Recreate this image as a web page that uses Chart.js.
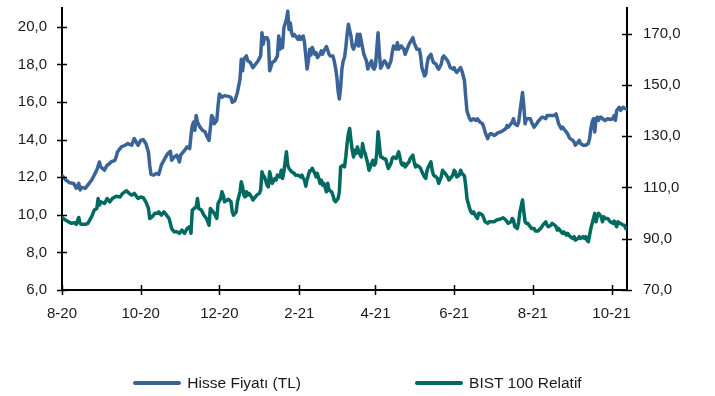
<!DOCTYPE html>
<html lang="tr">
<head>
<meta charset="utf-8">
<title>Hisse Fiyatı ve BIST 100 Relatif</title>
<script src="https://cdn.jsdelivr.net/npm/chart.js@4/dist/chart.umd.min.js"></script>
<style>
  html, body { margin: 0; padding: 0; background: #ffffff; }
  #wrap { position: relative; width: 715px; height: 396px; }
  #chart { position: absolute; left: 0; top: 0; }
  #legend {
    position: absolute; left: 0; top: 374px; width: 715px; height: 18px;
    display: flex; justify-content: center; align-items: center; gap: 114px;
    font-family: "Liberation Sans", Arial, sans-serif; font-size: 15.5px; color: #1a1a1a;
  }
  .item { display: flex; align-items: center; white-space: nowrap; }
  .swatch { width: 48px; height: 4px; margin-right: 6px; border-radius: 2px; }
</style>
</head>
<body>
<div id="wrap">
  <canvas id="chart" width="715" height="396"></canvas>
  <div id="legend"></div>
</div>
<script>
// Days are counted from 1 August 2020.
const monthTickDays   = [0, 61, 122, 184, 243, 304, 365, 426];
const monthTickLabels = ['8-20', '10-20', '12-20', '2-21', '4-21', '6-21', '8-21', '10-21'];
const lastDay = 438;

const leftTicks  = [6, 8, 10, 12, 14, 16, 18, 20];
const rightTicks = [70, 90, 110, 130, 150, 170];

// Hisse Fiyatı (TL), left axis
const hisseDays = [0,3,6,9,11,13,14,15,18,20,23,25,27,29,30,33,35,37,38,41,42,43,46,49,51,54,56,59,61,63,65,67,68,69,71,73,75,77,80,82,84,85,87,89,91,92,95,97,99,100,101,102,103,104,105,107,109,111,112,114,116,117,118,120,121,122,124,126,129,131,132,134,136,138,139,140,141,143,144,146,148,150,152,154,155,156,157,159,160,161,163,165,167,168,169,170,171,172,174,175,176,177,178,179,180,181,183,184,185,187,188,189,190,191,192,193,194,196,197,198,200,201,202,203,205,207,208,210,211,212,213,214,215,216,217,218,219,220,221,222,224,225,226,228,229,230,231,232,233,234,236,237,238,240,241,242,243,245,246,247,248,249,250,251,252,253,255,256,257,259,260,261,263,264,265,266,268,269,272,273,274,275,277,278,279,281,282,283,284,286,287,288,290,291,292,294,295,296,297,299,300,301,303,304,305,306,308,309,310,312,313,314,316,317,319,321,322,323,324,326,327,328,330,331,332,333,335,336,337,338,340,341,342,344,345,346,348,349,350,351,353,354,355,357,358,359,360,362,363,364,366,367,368,369,371,372,373,375,376,379,382,383,384,385,387,388,389,391,392,393,394,396,397,398,400,401,402,404,406,408,409,410,411,412,413,414,415,416,417,418,419,421,423,425,427,428,429,430,431,432,433,435,436,437];
const hisseValues = [12.10,11.85,11.70,11.67,11.41,11.67,11.32,11.46,11.41,11.58,11.85,12.11,12.38,12.81,12.55,12.38,12.64,12.73,12.81,12.90,13.08,13.34,13.61,13.70,13.79,13.70,14.05,13.70,13.96,14.00,13.79,13.34,12.64,12.15,12.11,12.20,12.15,12.64,13.03,13.26,13.38,12.90,13.08,13.17,12.81,13.17,13.43,13.61,13.52,14.22,14.75,14.93,14.49,15.28,14.93,14.66,14.49,14.40,14.22,13.96,15.28,15.19,14.84,15.02,15.81,16.43,16.25,16.34,16.30,16.25,15.98,16.07,16.51,17.22,18.28,17.66,18.28,18.45,18.19,18.10,17.83,18.01,18.19,18.45,19.68,19.07,19.42,19.42,19.24,17.66,18.10,18.19,18.45,19.51,18.81,19.33,18.89,19.95,20.39,20.83,19.86,20.21,19.68,19.51,19.60,19.51,19.33,19.51,19.33,19.51,19.15,18.45,17.75,18.20,18.80,18.50,18.90,18.54,18.63,18.36,18.54,18.72,18.54,18.72,18.95,18.54,18.45,18.45,18.19,17.83,17.39,16.60,16.16,16.78,17.75,18.19,18.36,18.89,19.60,20.13,19.51,18.98,18.81,19.15,19.60,18.98,19.60,19.24,18.89,18.54,18.19,17.75,17.92,18.19,17.83,17.75,17.92,19.68,18.60,17.80,17.92,18.10,18.19,18.10,17.95,17.83,18.19,18.63,18.98,18.81,19.15,18.81,18.98,18.89,18.81,18.54,18.89,19.07,19.42,19.15,18.98,18.81,18.81,18.45,17.83,17.39,17.48,18.01,18.36,18.54,18.28,18.10,18.01,17.83,17.75,18.01,18.36,18.45,18.36,18.19,18.01,17.83,17.75,17.83,17.66,17.57,17.75,17.83,17.66,17.13,16.25,15.50,15.11,15.02,15.11,15.02,15.11,15.02,14.93,14.84,14.66,14.40,14.05,14.22,14.31,14.31,14.22,14.26,14.31,14.37,14.40,14.44,14.49,14.58,14.75,14.66,14.84,14.93,15.11,14.84,14.75,14.93,15.46,16.51,15.81,14.84,15.11,15.11,15.11,14.93,14.66,14.75,14.84,14.96,15.11,15.19,15.19,15.11,15.28,15.28,15.28,15.37,15.11,14.84,14.58,14.66,14.58,14.40,14.31,14.14,14.05,13.96,13.87,13.70,13.87,13.96,13.79,13.70,13.70,13.79,14.05,14.58,14.93,15.11,14.40,15.11,15.19,15.02,15.19,15.19,15.11,15.02,15.11,15.07,15.11,15.28,15.02,15.55,15.64,15.72,15.55,15.72,15.67,15.64];

// BIST 100 Relatif, right axis
const bistDays = [0,2,5,7,10,11,13,14,15,18,20,23,25,27,28,29,30,33,35,37,39,42,45,47,50,52,54,56,59,61,63,65,67,68,70,72,74,75,77,79,81,83,85,87,89,91,93,95,97,99,100,101,104,105,106,108,110,112,114,115,116,118,120,121,123,124,125,126,129,131,132,133,135,136,138,139,140,141,142,143,144,145,147,148,149,151,153,154,155,156,157,159,160,161,163,165,166,167,169,170,171,172,173,174,175,176,178,180,181,183,185,186,187,188,189,190,192,193,194,196,197,198,200,201,202,203,205,206,207,209,210,211,212,214,215,216,218,219,220,221,222,223,224,225,226,227,228,229,230,232,233,234,235,236,237,238,240,241,242,243,244,245,246,247,248,249,251,252,253,255,256,257,259,260,261,263,264,265,266,268,269,270,272,273,274,275,277,278,279,281,282,283,284,286,287,288,290,291,292,294,295,296,297,299,300,301,303,304,305,306,308,309,310,312,313,314,316,317,318,319,321,322,323,324,326,327,328,330,331,332,335,337,340,342,344,345,346,348,349,350,351,353,354,355,357,358,359,360,361,362,363,364,366,367,368,369,371,372,373,375,376,377,379,380,382,383,384,385,387,388,389,391,392,393,394,396,397,398,400,401,402,404,405,406,407,408,409,410,411,412,413,414,415,416,417,418,419,420,421,423,424,425,427,428,430,431,432,433,435,436,437];
const bistValues = [98.3,97.5,96.6,96.0,96.2,95.6,98.3,96.0,95.6,95.6,96.0,98.6,101.2,101.8,105.7,103.1,104.4,103.8,105.7,104.4,105.7,106.6,106.3,107.7,108.7,107.7,107.0,107.7,105.7,106.3,106.0,104.4,101.8,97.9,98.6,99.9,99.9,100.5,99.2,100.5,99.2,97.9,94.0,92.7,92.7,92.1,93.4,92.1,94.0,94.7,92.1,101.2,102.4,105.7,101.8,101.2,99.2,97.9,95.3,101.8,101.2,99.9,97.9,103.8,105.7,108.3,107.0,104.4,105.4,104.4,100.5,99.2,100.5,104.4,108.3,112.2,110.2,107.0,106.3,108.3,107.0,107.7,106.3,105.1,105.7,107.0,107.7,109.0,116.1,114.8,114.1,110.9,110.2,116.1,111.6,113.5,112.9,114.8,114.1,116.7,113.5,116.1,120.0,123.9,118.7,117.4,116.1,115.5,114.8,114.8,114.1,114.8,113.5,112.9,110.5,113.0,116.5,116.5,117.5,115.5,114.1,115.5,111.6,112.9,110.9,111.6,108.3,111.6,109.0,108.3,107.0,105.1,104.4,105.7,108.3,118.0,118.7,118.0,121.9,127.1,131.0,133.0,128.4,124.5,121.9,124.5,123.3,125.8,123.9,121.9,127.1,124.5,123.3,121.3,119.4,116.7,119.4,120.6,118.7,119.4,123.3,131.7,127.1,121.9,121.9,121.3,121.0,119.0,117.4,119.4,121.3,121.9,121.3,122.6,123.9,119.4,118.7,119.4,118.0,119.4,120.0,121.3,122.6,120.0,118.0,118.7,118.0,117.4,116.1,114.1,113.5,116.7,118.0,120.0,116.7,114.8,114.1,113.5,111.6,114.1,116.7,116.1,115.5,114.1,112.9,113.5,114.8,116.7,116.1,114.1,114.8,116.7,115.5,114.5,110.5,105.5,101.8,100.5,99.9,100.5,98.6,97.9,99.9,99.9,99.2,97.9,96.6,96.0,96.6,96.6,96.6,97.3,97.7,98.2,97.3,96.6,96.0,96.6,97.9,97.3,94.7,94.0,96.6,100.5,105.1,100.5,96.6,96.0,96.0,95.3,94.7,94.0,94.0,93.0,93.0,93.0,94.0,94.7,95.5,96.6,95.3,94.7,95.3,96.0,95.3,94.7,93.4,94.0,92.7,92.1,92.7,91.4,92.1,91.4,90.8,90.1,90.8,89.5,90.1,90.8,90.1,90.8,90.1,90.8,89.5,88.8,91.4,94.0,96.0,97.9,99.9,96.6,98.6,99.9,99.2,98.6,96.6,98.6,97.9,97.9,97.3,96.6,96.0,96.9,94.7,96.6,96.0,96.0,95.3,95.3,94.0];

const seriesNames = ['Hisse Fiyatı (TL)', 'BIST 100 Relatif'];
const seriesColors = ['#3a6397', '#006a60'];

const toPoints = (days, values) => days.map((d, i) => ({ x: d, y: values[i] }));
const commaFormat = v => Number(v).toFixed(1).replace('.', ',');

const FONT = { family: "'Liberation Sans', Arial, sans-serif", size: 15 };
const TEXT = '#1a1a1a';

// Short tick marks that cross each axis line
const crossTicks = {
  id: 'crossTicks',
  afterDraw(chart) {
    const ctx = chart.ctx;
    ctx.save();
    ctx.strokeStyle = '#000';
    ctx.lineWidth = 1.5;
    ['x', 'y', 'y1'].forEach(id => {
      const s = chart.scales[id];
      s.ticks.forEach(t => {
        const p = Math.round(s.getPixelForValue(t.value)) + 0.5;
        ctx.beginPath();
        if (id === 'x') {
          ctx.moveTo(p, s.top - 5); ctx.lineTo(p, s.top + 5);
        } else {
          const ax = id === 'y' ? s.right : s.left;
          ctx.moveTo(ax - 5, p); ctx.lineTo(ax + 5, p);
        }
        ctx.stroke();
      });
    });
    ctx.restore();
  }
};

// HTML legend built from the chart's own legend items
const htmlLegend = {
  id: 'htmlLegend',
  afterUpdate(chart) {
    const box = document.getElementById('legend');
    box.innerHTML = '';
    chart.options.plugins.legend.labels.generateLabels(chart).forEach(item => {
      const el = document.createElement('div');
      el.className = 'item';
      const sw = document.createElement('span');
      sw.className = 'swatch';
      sw.style.background = item.strokeStyle;
      const tx = document.createElement('span');
      tx.textContent = item.text;
      el.appendChild(sw);
      el.appendChild(tx);
      box.appendChild(el);
    });
  }
};

const axisBorder = { display: true, color: '#000', width: 2 };
const noGrid = { display: false, drawTicks: false };

// Fixed axis sizes so the plot area sits in a set box
const fitVertical = w => s => { s.width = w; s.paddingTop = 0; s.paddingBottom = 0; };

const lineStyle = {
  borderWidth: 3.5,
  pointRadius: 0,
  tension: 0,
  borderJoinStyle: 'round',
  borderCapStyle: 'round'
};

new Chart(document.getElementById('chart'), {
  type: 'line',
  data: {
    datasets: [
      Object.assign({
        label: seriesNames[0],
        data: toPoints(hisseDays, hisseValues),
        yAxisID: 'y',
        borderColor: seriesColors[0],
        backgroundColor: seriesColors[0]
      }, lineStyle),
      Object.assign({
        label: seriesNames[1],
        data: toPoints(bistDays, bistValues),
        yAxisID: 'y1',
        borderColor: seriesColors[1],
        backgroundColor: seriesColors[1]
      }, lineStyle)
    ]
  },
  options: {
    responsive: false,
    animation: false,
    devicePixelRatio: 1,
    layout: { padding: { top: 8, left: 0, right: 0, bottom: 66 } },
    plugins: {
      legend: { display: false },
      tooltip: { enabled: false }
    },
    scales: {
      x: {
        type: 'linear',
        min: 0,
        max: lastDay,
        grid: noGrid,
        border: axisBorder,
        afterFit: s => { s.height = 40; s.paddingLeft = 0; s.paddingRight = 0; },
        afterBuildTicks: s => { s.ticks = monthTickDays.map(v => ({ value: v })); },
        ticks: {
          autoSkip: false,
          maxRotation: 0,
          padding: 15,
          color: TEXT,
          font: FONT,
          callback: (v, i) => monthTickLabels[i]
        }
      },
      y: {
        position: 'left',
        min: 6,
        max: 21,
        grid: noGrid,
        border: axisBorder,
        afterFit: fitVertical(62),
        afterBuildTicks: s => { s.ticks = leftTicks.map(v => ({ value: v })); },
        ticks: { padding: 15, color: TEXT, font: FONT, callback: commaFormat }
      },
      y1: {
        position: 'right',
        min: 70,
        max: 180,
        grid: noGrid,
        border: axisBorder,
        afterFit: fitVertical(88),
        afterBuildTicks: s => { s.ticks = rightTicks.map(v => ({ value: v })); },
        ticks: { padding: 16, color: TEXT, font: FONT, callback: commaFormat }
      }
    }
  },
  plugins: [crossTicks, htmlLegend]
});
</script>
</body>
</html>
